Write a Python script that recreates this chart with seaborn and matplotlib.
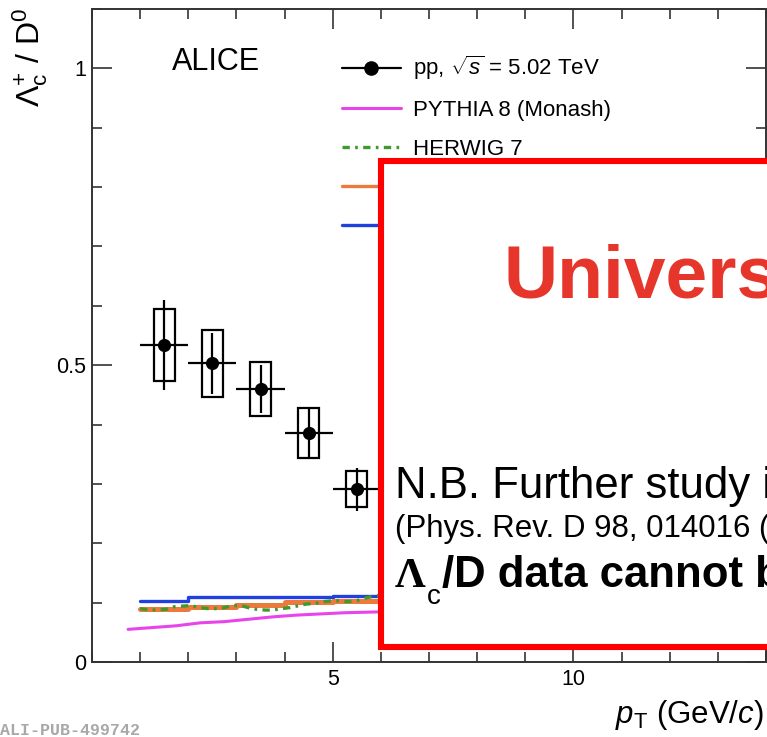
import numpy as np
import pandas as pd
import seaborn as sns
import matplotlib
matplotlib.use("Agg")
import matplotlib.pyplot as plt
from matplotlib.patches import Rectangle
from matplotlib.lines import Line2D

# ---------------- data ----------------
pt_center = [1.5, 2.5, 3.5, 4.5, 5.5]
pt_lo = [1.0, 2.0, 3.0, 4.0, 5.0]
pt_hi = [2.0, 3.0, 4.0, 5.0, 6.0]
ratio = [0.534, 0.503, 0.460, 0.386, 0.291]
stat_err = [0.076, 0.052, 0.040, 0.041, 0.036]
syst_err = [0.061, 0.057, 0.046, 0.042, 0.030]

# step-like model predictions (bin edges + values, last value repeated)
model_edges = [1.0, 2.0, 3.0, 4.0, 5.0, 6.0]
blue_vals = [0.1035, 0.109, 0.110, 0.110, 0.112, 0.112]
orange_vals = [0.089, 0.0925, 0.096, 0.101, 0.103, 0.103]

pythia_x = [0.75, 1.25, 1.75, 2.25, 2.75, 3.25, 3.75, 4.25, 4.75, 5.25, 5.75, 6.25]
pythia_y = [0.055, 0.058, 0.061, 0.066, 0.068, 0.072, 0.076, 0.079, 0.081, 0.083, 0.084, 0.085]

herwig_x = [1.0, 1.2, 1.35, 1.55, 1.7, 1.85, 2.05, 2.25, 2.4, 2.6, 2.75, 2.9, 3.1, 3.25,
            3.4, 3.6, 3.75, 3.95, 4.1, 4.3, 4.45, 4.65, 4.8, 5.0, 5.15, 5.3, 5.5, 5.65, 5.85, 6.0]
herwig_y = [0.090, 0.0875, 0.0875, 0.089, 0.093, 0.094, 0.095, 0.0915, 0.090, 0.090, 0.0915,
            0.095, 0.095, 0.0915, 0.089, 0.0875, 0.0875, 0.090, 0.0915, 0.095, 0.0976, 0.0987,
            0.1016, 0.1032, 0.1032, 0.1016, 0.1032, 0.107, 0.111, 0.112]

legend_labels = [r"pp, $\sqrt{s}$ = 5.02 TeV", "PYTHIA 8 (Monash)", "HERWIG 7", " ", " "]
x_ticks = [5, 10]
y_ticks = [0, 0.5, 1]
y_ticklabels = ["0", "0.5", "1"]

# ---------------- style ----------------
sns.set_theme(style="ticks")
plt.rcParams["font.family"] = ["Liberation Sans", "DejaVu Sans"]
plt.rcParams["mathtext.fontset"] = "custom"
plt.rcParams["mathtext.rm"] = "Liberation Sans"
plt.rcParams["mathtext.it"] = "Liberation Sans:italic"
plt.rcParams["mathtext.bf"] = "Liberation Sans:bold"
plt.rcParams["text.color"] = "black"
plt.rcParams["axes.labelcolor"] = "black"
plt.rcParams["xtick.color"] = "black"
plt.rcParams["ytick.color"] = "black"

W, H = 767, 737
fig = plt.figure(figsize=(W / 100, H / 100), dpi=100)
fig.patch.set_facecolor("white")
ax = fig.add_axes([92 / W, 75 / H, 674 / W, 653 / H])


def fp(x, y_top):
    """pixel position (from top-left) -> figure fraction"""
    return x / W, 1 - y_top / H


C_BLUE = "#2040e0"
C_ORANGE = "#ec7a3c"
C_GREEN = "#3f9a2e"
C_MAG = "#e844ec"
GREEN_LS = (0, (2.2, 1.6, 0.8, 1.6))

# models
sns.lineplot(x=model_edges, y=blue_vals, ax=ax, color=C_BLUE, lw=2.4,
             drawstyle="steps-post", estimator=None, sort=False, zorder=2)
sns.lineplot(x=model_edges, y=orange_vals, ax=ax, color=C_ORANGE, lw=3.6,
             drawstyle="steps-post", estimator=None, sort=False, zorder=2)
sns.lineplot(x=herwig_x, y=herwig_y, ax=ax, color=C_GREEN, lw=2.4,
             linestyle=GREEN_LS, estimator=None, sort=False, zorder=3)
sns.lineplot(x=pythia_x, y=pythia_y, ax=ax, color=C_MAG, lw=2.2,
             estimator=None, sort=False, zorder=2)

# data: systematic boxes
box_half = 0.22
for xc, yv, s in zip(pt_center, ratio, syst_err):
    ax.add_patch(Rectangle((xc - box_half, yv - s), 2 * box_half, 2 * s,
                           fill=False, ec="black", lw=1.6, zorder=4))
# data: statistical errors + bin widths
xerr = [np.subtract(pt_center, pt_lo), np.subtract(pt_hi, pt_center)]
ax.errorbar(pt_center, ratio, yerr=stat_err, xerr=xerr, fmt="none",
            ecolor="black", elinewidth=1.6, capsize=0, zorder=5)
sns.scatterplot(x=pt_center, y=ratio, ax=ax, color="black", s=90,
                edgecolor="black", linewidth=0, zorder=6)

# axes
ax.set_xlim(0, 14)
ax.set_ylim(0, 1.1)
ax.set_xticks(x_ticks)
ax.set_xticks(np.arange(0, 14.01, 1), minor=True)
ax.set_yticks(y_ticks)
ax.set_yticklabels(y_ticklabels)
ax.set_yticks(np.arange(0, 1.101, 0.1), minor=True)
ax.tick_params(which="both", direction="in", top=True, right=True,
               colors="#222222", labelcolor="black", labelsize=15.5, width=1.1)
ax.tick_params(which="major", length=14.5)
ax.tick_params(which="minor", length=7)
ax.tick_params(axis="x", which="major", pad=5)
ax.tick_params(axis="y", which="major", pad=4)
for sp in ax.spines.values():
    sp.set_color("#333333")
    sp.set_linewidth(1.4)
ax.set_xlabel("")
ax.set_ylabel("")
ax.grid(False)

# legend
handles = [
    Line2D([], [], color="black", lw=1.6, marker="o", markersize=9.5),
    Line2D([], [], color=C_MAG, lw=2.2),
    Line2D([], [], color=C_GREEN, lw=2.4, linestyle=GREEN_LS),
    Line2D([], [], color=C_ORANGE, lw=2.4),
    Line2D([], [], color=C_BLUE, lw=2.4),
]
leg = ax.legend(handles, legend_labels, loc="upper left",
                bbox_to_anchor=fp(342, 54), bbox_transform=fig.transFigure,
                frameon=False, fontsize=16, handlelength=2.65, handletextpad=0.55,
                labelspacing=0.80, borderpad=0, borderaxespad=0)
for t in leg.get_texts():
    t.set_color("black")

# axis titles (ROOT style placement)
fig.text(*fp(30, 8), r"$\Lambda_{\mathrm{c}}^{+}$ / D$^{0}$", rotation=90,
         ha="center", va="top", fontsize=23)
fig.text(*fp(764, 723), r"$p_{\mathrm{T}}$ (GeV/$c$)", ha="right",
         va="baseline", fontsize=22.5)
fig.text(*fp(172, 70), "ALICE", ha="left", va="baseline", fontsize=22)
fig.text(*fp(0, 735), "ALI-PUB-499742", ha="left", va="baseline", fontsize=12,
         family="Liberation Mono", weight="bold", color="#a8a8a8")

# overlay box
box = Rectangle(fp(381, 647), 600 / W, (647 - 161) / H, transform=fig.transFigure,
                fc="white", ec="#ff0000", lw=4.4, zorder=2)
fig.add_artist(box)

fig.text(*fp(503, 297), "Univers", color="#e6352a", weight="bold",
         fontsize=54, ha="left", va="baseline", zorder=4)
fig.text(*fp(395, 498), "N.B. Further study i", color="black",
         fontsize=31.5, ha="left", va="baseline", zorder=4)
fig.text(*fp(395, 537), "(Phys. Rev. D 98, 014016 (", color="black",
         fontsize=22.5, ha="left", va="baseline", zorder=4)
fig.text(*fp(395, 587), "Λ", family="Liberation Serif", weight="bold",
         fontsize=31, ha="left", va="baseline", zorder=4)
fig.text(*fp(427, 604), "c", fontsize=20, ha="left", va="baseline", zorder=4)
fig.text(*fp(442, 587), "/D data cannot b", weight="bold",
         fontsize=31.5, ha="left", va="baseline", zorder=4)

fig.savefig("out.png", dpi=100, facecolor="white")
